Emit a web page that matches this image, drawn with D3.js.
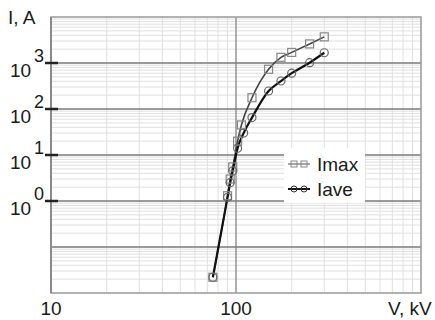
<!DOCTYPE html>
<html><head><meta charset="utf-8">
<script src="https://cdn.jsdelivr.net/npm/d3@7/dist/d3.min.js"></script>
<style>body{margin:0;background:#fff}svg{display:block}</style>
</head><body>
<script>
// Data
const vImax = [75, 90, 93, 96, 102, 107, 122, 150, 175, 200, 250, 300];
const iImax = [0.022, 1.3, 3, 5.5, 20, 45, 176, 730, 1330, 1700, 2600, 3700];
const vIave = [75, 90, 93, 96, 102, 110, 122, 150, 175, 200, 250, 300];
const iIave = [0.022, 1.2, 2.5, 4.5, 14, 30, 65, 246, 406, 600, 1015, 1670];
const yTickExp = [3, 2, 1, 0];
const xTickLabels = [10, 100];
const seriesNames = ["Imax", "Iave"];

const W = 435, H = 320;
const L = 51, R = 421, T = 17, B = 293;
const svg = d3.select("body").append("svg").attr("width", W).attr("height", H);
const x = d3.scaleLog().domain([10, 1000]).range([L, R]);
const y = d3.scaleLog().domain([0.01, 10000]).range([B, T]);
const font = "Liberation Sans, Arial, sans-serif";

// minor grid
const minorX = [], minorY = [];
for (let d = 10; d < 1000; d *= 10) for (let k = 2; k <= 9; k++) minorX.push(d * k);
for (let d = 0.01; d < 10000; d *= 10) for (let k = 2; k <= 9; k++) minorY.push(d * k);
svg.append("g").selectAll("line").data(minorX).join("line")
  .attr("x1", d => x(d)).attr("x2", d => x(d)).attr("y1", T).attr("y2", B)
  .attr("stroke", "#e0e0e0").attr("stroke-width", 1);
svg.append("g").selectAll("line").data(minorY).join("line")
  .attr("y1", d => y(d)).attr("y2", d => y(d)).attr("x1", L).attr("x2", R)
  .attr("stroke", "#e0e0e0").attr("stroke-width", 1);
// major grid
const majorY = [0.1, 1, 10, 100, 1000];
svg.append("g").selectAll("line").data(majorY).join("line")
  .attr("y1", d => y(d)).attr("y2", d => y(d)).attr("x1", L).attr("x2", R)
  .attr("stroke", "#7a7a7a").attr("stroke-width", 1.5);
svg.append("line").attr("x1", x(100)).attr("x2", x(100)).attr("y1", T).attr("y2", B)
  .attr("stroke", "#7a7a7a").attr("stroke-width", 1.2);
// frame
svg.append("rect").attr("x", L).attr("y", T).attr("width", R - L).attr("height", B - T)
  .attr("fill", "none").attr("stroke", "#999").attr("stroke-width", 1.5);
svg.append("line").attr("x1", L).attr("x2", L).attr("y1", T).attr("y2", B)
  .attr("stroke", "#8a8a8a").attr("stroke-width", 2);

// y ticks
const yt = svg.append("g");
yTickExp.forEach(e => {
  const yy = y(Math.pow(10, e));
  yt.append("line").attr("x1", 45).attr("x2", 58).attr("y1", yy).attr("y2", yy)
    .attr("stroke", "#222").attr("stroke-width", 2.5);
  yt.append("text").attr("x", 10).attr("y", yy + 14).attr("font-family", font)
    .attr("font-size", 19).attr("fill", "#1a1a1a").text("10");
  yt.append("text").attr("x", 34).attr("y", yy - 1).attr("font-family", font)
    .attr("font-size", 18).attr("fill", "#1a1a1a").text(e);
});
// x tick labels
xTickLabels.forEach(v => {
  svg.append("text").attr("x", x(v)).attr("y", 315).attr("text-anchor", "middle")
    .attr("font-family", font).attr("font-size", 19).attr("fill", "#1a1a1a").text(v);
});
svg.append("text").attr("x", 8).attr("y", 24).attr("font-family", font)
  .attr("font-size", 19).attr("fill", "#1a1a1a").text("I, A");
svg.append("text").attr("x", 388).attr("y", 315).attr("font-family", font)
  .attr("font-size", 19).attr("fill", "#1a1a1a").text("V, kV");

// series
const line = d3.line().x(d => x(d[0])).y(d => y(d[1])).curve(d3.curveMonotoneX);
const dImax = vImax.map((v, i) => [v, iImax[i]]);
const dIave = vIave.map((v, i) => [v, iIave[i]]);
svg.append("path").datum(dImax).attr("d", line).attr("fill", "none")
  .attr("stroke", "#444").attr("stroke-width", 1.6);
svg.append("path").datum(dIave).attr("d", line).attr("fill", "none")
  .attr("stroke", "#111").attr("stroke-width", 2.2);
svg.append("g").selectAll("rect").data(dImax).join("rect")
  .attr("x", d => x(d[0]) - 4).attr("y", d => y(d[1]) - 4).attr("width", 8).attr("height", 8)
  .attr("fill", "none").attr("stroke", "#888").attr("stroke-width", 1.2);
svg.append("g").selectAll("circle").data(dIave).join("circle")
  .attr("cx", d => x(d[0])).attr("cy", d => y(d[1])).attr("r", 4)
  .attr("fill", "none").attr("stroke", "#666").attr("stroke-width", 1.2);

// legend
const lg = svg.append("g");
lg.append("rect").attr("x", 284).attr("y", 148).attr("width", 81).attr("height", 55).attr("fill", "#fff");
[0, 1].forEach(i => {
  const yy = 164 + i * 25;
  lg.append("line").attr("x1", 288).attr("x2", 310).attr("y1", yy).attr("y2", yy)
    .attr("stroke", i ? "#111" : "#888").attr("stroke-width", i ? 2 : 1.5);
  [294, 304].forEach(cx => {
    if (i === 0) lg.append("rect").attr("x", cx - 3).attr("y", yy - 3).attr("width", 6).attr("height", 6)
      .attr("fill", "none").attr("stroke", "#888");
    else lg.append("circle").attr("cx", cx).attr("cy", yy).attr("r", 3).attr("fill", "none").attr("stroke", "#333");
  });
  lg.append("text").attr("x", 317).attr("y", yy + 7).attr("font-family", font)
    .attr("font-size", 19).attr("fill", "#1a1a1a").text(seriesNames[i]);
});
</script>
</body></html>
